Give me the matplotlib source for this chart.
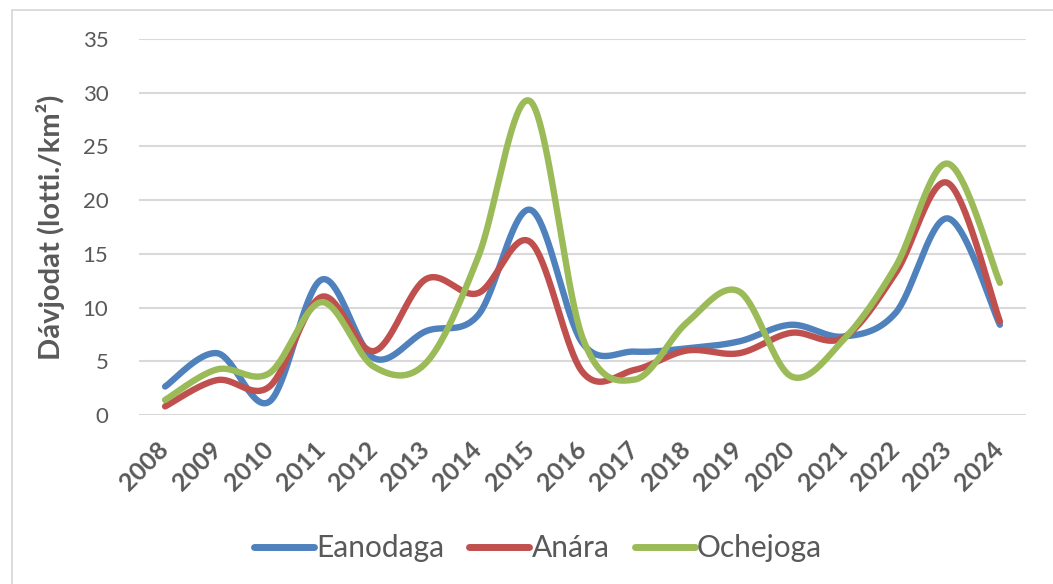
import numpy as np
import matplotlib
matplotlib.use("Agg")
import matplotlib.pyplot as plt
from matplotlib.patches import Rectangle
from matplotlib.lines import Line2D

years = ["2008", "2009", "2010", "2011", "2012", "2013", "2014", "2015", "2016",
         "2017", "2018", "2019", "2020", "2021", "2022", "2023", "2024"]
eanodaga = [2.65, 5.75, 1.25, 12.6, 5.3, 7.8, 9.3, 19.1, 6.7, 5.9, 6.2, 6.85, 8.4, 7.3, 9.5, 18.3, 8.4]
anara = [0.8, 3.25, 2.65, 11.0, 5.95, 12.65, 11.35, 16.1, 4.0, 4.2, 6.0, 5.75, 7.65, 7.2, 13.2, 21.6, 8.7]
ochejoga = [1.4, 4.25, 3.9, 10.5, 4.5, 4.85, 14.7, 29.2, 7.2, 3.3, 8.6, 11.5, 3.6, 7.0, 13.8, 23.4, 12.3]
series_names = ["Eanodaga", "Anára", "Ochejoga"]
colors = ["#4F81BD", "#C0504D", "#9BBB59"]
text_color = "#595959"
grid_color = "#D9D9D9"

plt.rcParams['font.family'] = ['Lato', 'DejaVu Sans']


def smooth(xs, ys, n=40):
    """Excel-like smoothed line: Catmull-Rom converted to cubic Bezier."""
    xs = np.asarray(xs, float)
    ys = np.asarray(ys, float)
    P = np.column_stack([xs, ys])
    m = len(P)
    out = []
    t = np.linspace(0, 1, n)[:, None]
    for i in range(m - 1):
        p0 = P[i - 1] if i > 0 else P[i]
        p1 = P[i]
        p2 = P[i + 1]
        p3 = P[i + 2] if i + 2 < m else P[i + 1]
        c1 = p1 + (p2 - p0) / 6.0
        c2 = p2 - (p3 - p1) / 6.0
        seg = ((1 - t) ** 3) * p1 + 3 * ((1 - t) ** 2) * t * c1 + 3 * (1 - t) * t ** 2 * c2 + t ** 3 * p2
        out.append(seg if i == 0 else seg[1:])
    out = np.vstack(out)
    return out[:, 0], out[:, 1]


fig = plt.figure(figsize=(10.53, 5.84), dpi=100)
W, H = 1053, 584
# chart border
fig.patches.append(Rectangle((12 / W, -0.1), 1.2, 1 - 10 / H + 0.1, transform=fig.transFigure,
                             fill=False, edgecolor=grid_color, linewidth=1.3))

ax = fig.add_axes([139 / W, 1 - 415 / H, (1026 - 139) / W, (415 - 39) / H])
x = np.arange(len(years))
for name, vals, c in zip(series_names, [eanodaga, anara, ochejoga], colors):
    sx, sy = smooth(x, vals)
    ax.plot(sx, sy, color=c, linewidth=4.6, solid_capstyle='round', solid_joinstyle='round', zorder=3)

ax.set_xlim(-0.5, len(years) - 0.5)
ax.set_ylim(0, 35)
ax.set_yticks(np.arange(0, 36, 5))
ax.yaxis.grid(True, color=grid_color, linewidth=1.5)
ax.set_axisbelow(True)
for s in ax.spines.values():
    s.set_visible(False)
ax.tick_params(axis='both', length=0)
ax.tick_params(axis='y', labelsize=16, labelcolor=text_color, pad=22)
ax.set_xticks(x)
ax.set_xticklabels(years, rotation=45, ha='right', va='center', rotation_mode='anchor',
                   fontsize=18, fontweight='bold', color=text_color)
ax.tick_params(axis='x', pad=22)

ax.set_ylabel("Dávjodat (lotti./km²)", fontsize=21, fontweight='bold', color=text_color)
ax.yaxis.set_label_coords(-(139 - 65) / (1026 - 139), 0.5)

handles = [Line2D([0], [0], color=c, linewidth=5, solid_capstyle='round') for c in colors]
leg = fig.legend(handles, series_names, loc='center', bbox_to_anchor=(538 / W, 1 - 548 / H),
                 ncol=3, frameon=False, fontsize=21.5, handlelength=2.0, handletextpad=0.08,
                 columnspacing=0.85, labelcolor=text_color)

fig.savefig("out.png", dpi=100)
